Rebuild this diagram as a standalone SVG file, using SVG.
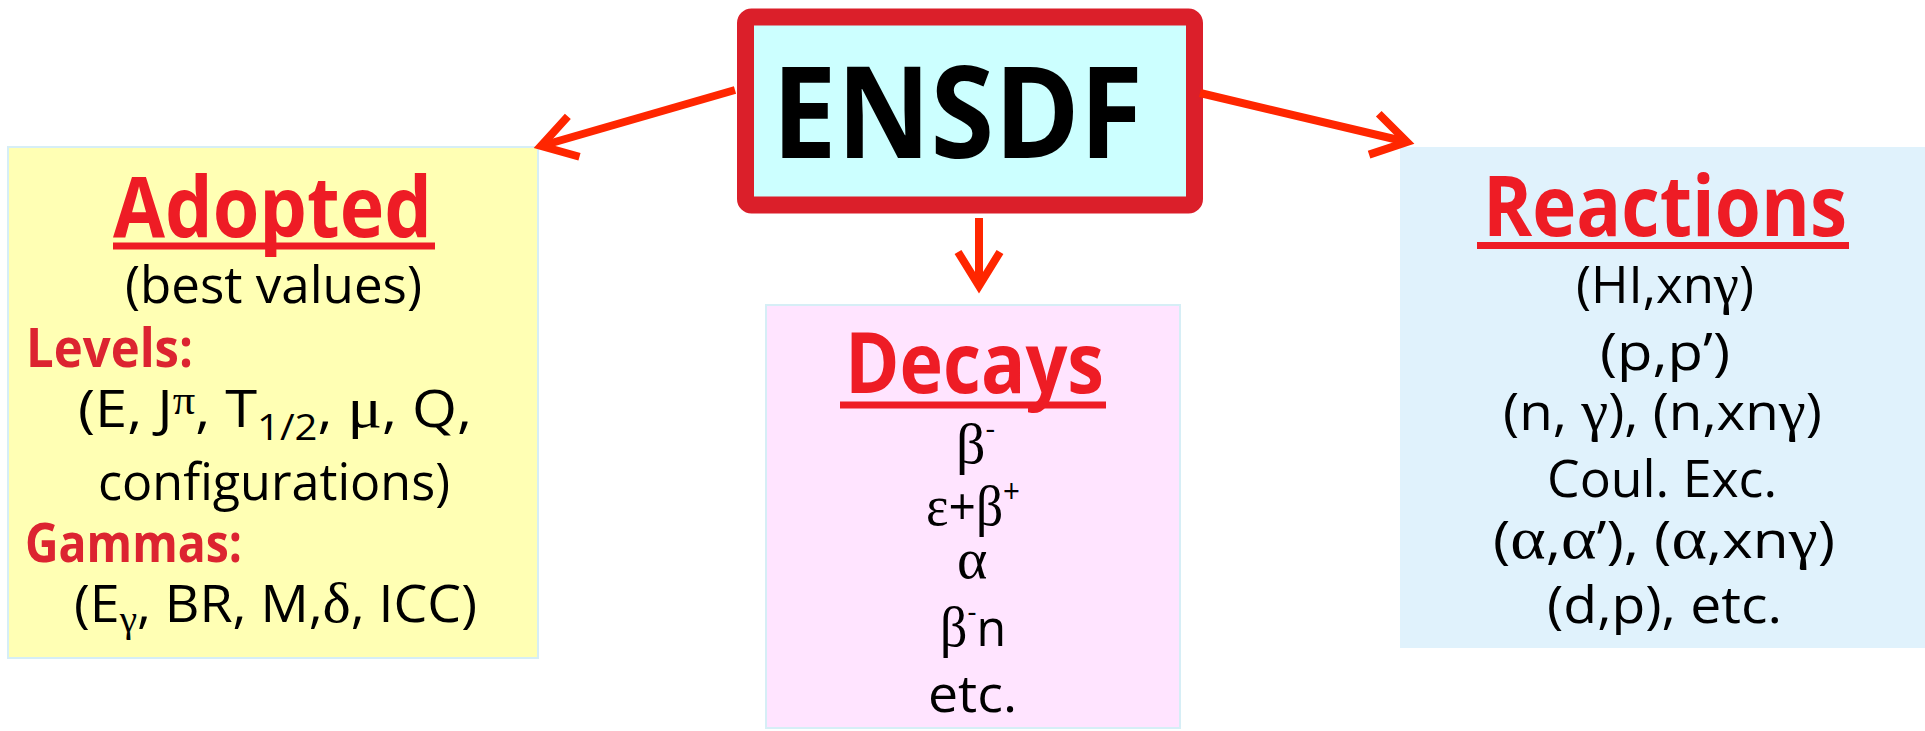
<svg xmlns="http://www.w3.org/2000/svg" width="1925" height="731" viewBox="0 0 1925 731">
<defs>
<style>
.sans{font-family:"Open Sans","Noto Sans",sans-serif;}
.gr{font-family:"Liberation Serif","DejaVu Serif",serif;font-weight:400;}
.title{font-family:"Open Sans","Noto Sans",sans-serif;font-weight:700;font-size:85px;fill:#ee1c25;}
.ul{stroke:#ee1c25;stroke-width:7;}
.head{font-family:"Open Sans","Noto Sans",sans-serif;font-weight:700;font-size:53px;fill:#dc2430;}
.body{font-family:"Open Sans","Noto Sans",sans-serif;font-weight:500;font-size:52px;fill:#000;}
.conn{fill:none;stroke:#ff2600;stroke-width:8;}
</style>
<marker id="ah" markerUnits="userSpaceOnUse" markerWidth="60" markerHeight="60" refX="0" refY="0" viewBox="-45 -30 60 60" orient="auto" overflow="visible">
<path d="M-34,-21 L0,0 L-34,21" fill="none" stroke="#ff2600" stroke-width="8" stroke-linejoin="miter"/>
</marker>
</defs>
<rect width="1925" height="731" fill="#fff"/>

<g id="ensdf">
<rect x="745.5" y="17" width="449" height="188" rx="6" fill="#ccffff" stroke="#db1f2a" stroke-width="17"/>
<text x="772" y="158" class="sans" font-weight="700" font-size="127" textLength="371" lengthAdjust="spacingAndGlyphs" fill="#000">ENSDF</text>
</g>

<g id="adopted">
<rect x="8" y="147" width="530" height="511" fill="#ffffb4" stroke="#d6eef6" stroke-width="2"/>
<text x="113" y="237" class="title" textLength="319" lengthAdjust="spacingAndGlyphs">Adopted</text>
<line x1="113" y1="246" x2="435" y2="246" class="ul"/>
<text x="125" y="303" class="body" textLength="297" lengthAdjust="spacingAndGlyphs">(best values)</text>
<text x="26" y="367" class="head" textLength="167" lengthAdjust="spacingAndGlyphs">Levels:</text>
<text x="78" y="427" class="body" textLength="394" lengthAdjust="spacingAndGlyphs">(E, J<tspan class="gr" font-size="40" dy="-13">π</tspan><tspan dy="13">, T</tspan><tspan font-size="36" dy="13">1/2</tspan><tspan dy="-13">, </tspan><tspan class="gr" font-size="58">μ</tspan>, Q,</text>
<text x="98" y="500" class="body" textLength="352" lengthAdjust="spacingAndGlyphs">configurations)</text>
<text x="25" y="562" class="head" textLength="217" lengthAdjust="spacingAndGlyphs">Gammas:</text>
<text x="74" y="622" class="body" textLength="403" lengthAdjust="spacingAndGlyphs">(E<tspan class="gr" font-size="38" dy="10">γ</tspan><tspan dy="-10">, BR, M,</tspan><tspan class="gr" font-size="58">δ</tspan>, ICC)</text>
</g>

<g id="decays">
<rect x="766" y="305" width="414" height="423" fill="#ffe4ff" stroke="#d6eef6" stroke-width="2"/>
<text x="845" y="393" class="title" textLength="259" lengthAdjust="spacingAndGlyphs">Decays</text>
<line x1="840" y1="405" x2="1106" y2="405" class="ul"/>
<text x="956" y="463" class="body"><tspan class="gr" font-size="58">β</tspan><tspan font-size="30" dy="-24">-</tspan></text>
<text x="926" y="525" class="body" textLength="94" lengthAdjust="spacingAndGlyphs"><tspan class="gr" font-size="58">ε</tspan>+<tspan class="gr" font-size="58">β</tspan><tspan font-size="32" dy="-22">+</tspan></text>
<text x="957" y="578" class="gr" font-size="58">α</text>
<text x="940" y="646" class="body" textLength="66" lengthAdjust="spacingAndGlyphs"><tspan class="gr" font-size="58">β</tspan><tspan font-size="30" dy="-24">-</tspan><tspan dy="24">n</tspan></text>
<text x="928" y="712" class="body" textLength="89" lengthAdjust="spacingAndGlyphs">etc.</text>
</g>

<g id="reactions">
<rect x="1400" y="147" width="525" height="501" fill="#e0f2fc"/>
<text x="1483" y="236" class="title" textLength="364" lengthAdjust="spacingAndGlyphs">Reactions</text>
<line x1="1477" y1="245.5" x2="1849" y2="245.5" class="ul"/>
<text x="1576" y="303" class="body" textLength="178" lengthAdjust="spacingAndGlyphs">(HI,xn<tspan class="gr" font-size="58">γ</tspan>)</text>
<text x="1600" y="370" class="body" textLength="130" lengthAdjust="spacingAndGlyphs">(p,p’)</text>
<text x="1503" y="430" class="body" textLength="319" lengthAdjust="spacingAndGlyphs">(n, <tspan class="gr" font-size="58">γ</tspan>), (n,xn<tspan class="gr" font-size="58">γ</tspan>)</text>
<text x="1547" y="497" class="body" textLength="230" lengthAdjust="spacingAndGlyphs">Coul. Exc.</text>
<text x="1493" y="558" class="body" textLength="342" lengthAdjust="spacingAndGlyphs">(<tspan class="gr" font-size="60">α</tspan>,<tspan class="gr" font-size="60">α</tspan>’), (<tspan class="gr" font-size="60">α</tspan>,xn<tspan class="gr" font-size="58">γ</tspan>)</text>
<text x="1547" y="623" class="body" textLength="235" lengthAdjust="spacingAndGlyphs">(d,p), etc.</text>
</g>

<g id="connectors">
<path class="conn" d="M735,90 L541,146" marker-end="url(#ah)"/>
<path class="conn" d="M979,218 L979,286" marker-end="url(#ah)"/>
<path class="conn" d="M1200,93 L1407,142" marker-end="url(#ah)"/>
</g>
</svg>
